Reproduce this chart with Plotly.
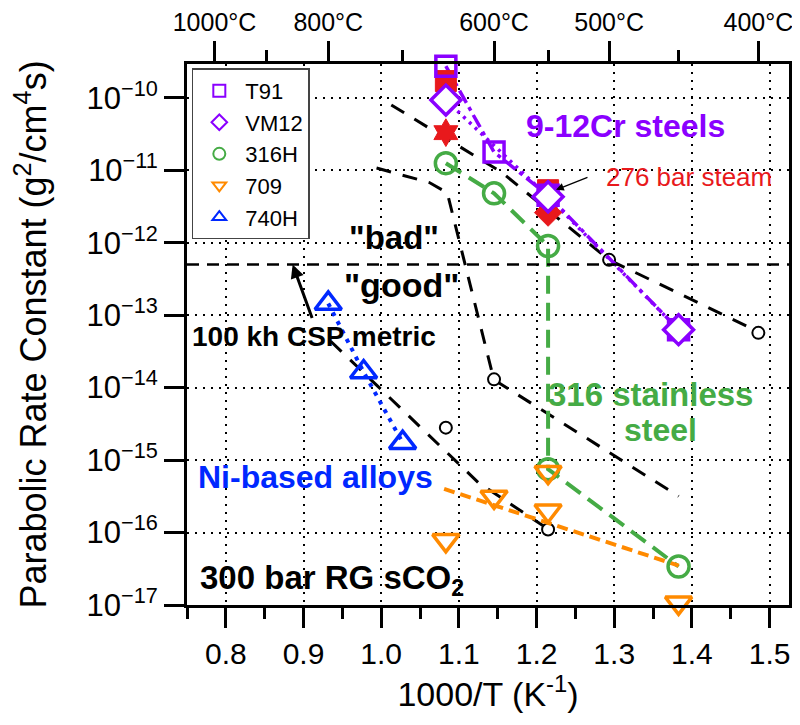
import numpy as np
import plotly.graph_objects as go

def inv_t(temps_c):
    return [1000.0 / (t + 273.15) for t in temps_c]

# ---------------- data ----------------
# temperatures (deg C) of exposures
t91_T = [650, 600, 550, 450]
t91_k = [2.73e-10, 1.78e-11, 4.5e-12, 6.3e-14]
vm12_T = [650, 550, 450]
vm12_k = [9.3e-11, 4.3e-12, 6.3e-14]
h316_T = [650, 600, 550, 550, 450]
h316_k = [1.25e-11, 4.8e-12, 9.0e-13, 7.5e-16, 3.4e-17]
a709_T = [650, 600, 550, 550, 450]
a709_k = [7.8e-17, 3.1e-16, 6.8e-16, 2.0e-16, 1.07e-17]
a740_T = [800, 750, 700]
a740_k = [1.45e-13, 1.64e-14, 1.74e-15]
steam_T = [650, 650, 550, 550]
steam_k = [1.7e-10, 3.3e-11, 5.3e-12, 2.6e-12]
steam_sym = ["square", "hexagram", "square", "diamond"]

# orange (709) trend line, 1000/T and k
fit709_x = [1.081, 1.383]
fit709_k = [4.0e-16, 3.5e-17]

# black dashed reference curves (1000/T, log10 k)
refA_x = [1.013, 1.154, 1.293, 1.488]
refA_logk = [-10.10, -11.02, -12.235, -13.24]
refB_x = [0.994, 1.062, 1.085, 1.145, 1.383]
refB_logk = [-10.97, -11.17, -11.31, -13.89, -15.50]
refC_x = [0.935, 1.125, 1.216]
refC_logk = [-13.36, -15.31, -15.96]
refpts_T = [650, 550, 600, 500, 400]
refpts_k = [2.8e-15, 1.1e-16, 1.3e-14, 5.8e-13, 5.7e-14]

metric_k = 5.0e-13  # 100 kh CSP metric

x_range = [0.75, 1.525]
y_log_range = [-17, -9.534]
x_major = [0.8, 0.9, 1.0, 1.1, 1.2, 1.3, 1.4, 1.5]
y_decades = list(range(-17, -9))
top_major_C = [1000, 800, 600, 500, 400]
top_minor_C = [900, 700, 550, 450]

# ---------------- colours ----------------
PURPLE = "#8a00ff"
GREEN = "#45ab45"
ORANGE = "#ff8a00"
BLUE = "#0028ff"
RED = "#e8191c"
FONT = "Liberation Sans, Arial, sans-serif"

fig = go.Figure()

# dummy trace for top axis
fig.add_trace(go.Scatter(x=inv_t(top_major_C), y=[None] * len(top_major_C), xaxis="x2",
                         showlegend=False, hoverinfo="skip"))

# black dashed reference curves
for xs, lk in [(refA_x, refA_logk), (refB_x, refB_logk), (refC_x, refC_logk)]:
    fig.add_trace(go.Scatter(x=xs, y=[10 ** v for v in lk], mode="lines",
                             line=dict(color="black", width=3, dash="15px,12px"),
                             showlegend=False, hoverinfo="skip"))
fig.add_trace(go.Scatter(x=inv_t(refpts_T), y=refpts_k, mode="markers",
                         marker=dict(symbol="circle", size=12, color="white",
                                     line=dict(color="black", width=2)),
                         showlegend=False, hoverinfo="skip"))

# coloured lines
fig.add_trace(go.Scatter(x=inv_t(h316_T), y=h316_k, mode="lines",
                         line=dict(color=GREEN, width=4, dash="18px,9px"), showlegend=False))
fig.add_trace(go.Scatter(x=fit709_x, y=fit709_k, mode="lines",
                         line=dict(color=ORANGE, width=4, dash="11px,6px"), showlegend=False))
fig.add_trace(go.Scatter(x=inv_t(a740_T), y=a740_k, mode="lines",
                         line=dict(color=BLUE, width=4, dash="4px,6px"), showlegend=False))
fig.add_trace(go.Scatter(x=inv_t(t91_T), y=t91_k, mode="lines",
                         line=dict(color=PURPLE, width=3.5, dash="14px,5px,4px,5px"), showlegend=False))
fig.add_trace(go.Scatter(x=inv_t(vm12_T), y=vm12_k, mode="lines",
                         line=dict(color=PURPLE, width=3.5, dash="3px,5px"), showlegend=False))

# markers
mk = dict(mode="markers", cliponaxis=False)
fig.add_trace(go.Scatter(x=inv_t(h316_T), y=h316_k, name="316H", legendrank=3, **mk,
                         marker=dict(symbol="circle", size=21, color="rgba(0,0,0,0)",
                                     line=dict(color=GREEN, width=3.5))))
fig.add_trace(go.Scatter(x=inv_t(a709_T), y=a709_k, name="709", legendrank=4, **mk,
                         marker=dict(symbol="triangle-down", size=23, color="rgba(0,0,0,0)",
                                     line=dict(color=ORANGE, width=3.5))))
fig.add_trace(go.Scatter(x=inv_t(a740_T), y=a740_k, name="740H", legendrank=5, **mk,
                         marker=dict(symbol="triangle-up", size=23, color="rgba(0,0,0,0)",
                                     line=dict(color=BLUE, width=3.5))))
fig.add_trace(go.Scatter(x=inv_t(steam_T), y=steam_k, showlegend=False, **mk,
                         marker=dict(symbol=steam_sym, size=21, color=RED,
                                     line=dict(color=RED, width=1))))
fig.add_trace(go.Scatter(x=inv_t(t91_T), y=t91_k, name="T91", legendrank=1, **mk,
                         marker=dict(symbol="square", size=20,
                                     color=["rgba(0,0,0,0)"] * 3 + [PURPLE],
                                     line=dict(color=PURPLE, width=3.5))))
fig.add_trace(go.Scatter(x=inv_t(vm12_T), y=vm12_k, name="VM12", legendrank=2, **mk,
                         marker=dict(symbol="diamond", size=23, color="white",
                                     line=dict(color=PURPLE, width=3.5))))

fig.add_hline(y=metric_k, line=dict(color="black", width=2.5, dash="12px,8px"))

# ---------------- annotations ----------------
def txt(s, x, y, size, color="black", xanchor="center"):
    fig.add_annotation(text=s, x=x, y=y, xref="paper", yref="paper", showarrow=False,
                       xanchor=xanchor, yanchor="middle",
                       font=dict(family=FONT, size=size, color=color))

txt("<b>9-12Cr steels</b>", 0.729, 0.885, 32, PURPLE)
txt("276 bar steam", 0.834, 0.791, 26, RED)
txt("<b>\"bad\"</b>", 0.344, 0.680, 33)
txt("<b>\"good\"</b>", 0.357, 0.591, 34)
txt("<b>100 kh CSP metric</b>", 0.211, 0.497, 28)
txt("<b>316 stainless</b>", 0.597, 0.390, 33, GREEN, "left")
txt("<b>steel</b>", 0.7226, 0.3235, 32, GREEN, "left")
txt("<b>Ni-based alloys</b>", 0.214, 0.2366, 32, BLUE)
txt("<b>300 bar RG sCO<sub>2</sub></b>", 0.0183, 0.046, 33, "black", "left")

# arrows
fig.add_annotation(x=1.225, y=-11.27, xref="x", yref="y", text="", showarrow=True,
                   ax=33, ay=-13, arrowhead=2, arrowsize=1.2, arrowwidth=1.3, arrowcolor="black")
fig.add_annotation(x=0.886, y=np.log10(metric_k), xref="x", yref="y", text="", showarrow=True,
                   ax=20, ay=55, arrowhead=2, arrowsize=0.9, arrowwidth=3, arrowcolor="black")

# ---------------- layout ----------------
# page body has an 8px margin, so the figure is 8px smaller than the window
grid = dict(showgrid=True, gridcolor="black", gridwidth=2, griddash="2px,6px")
fig.update_layout(
    width=792, height=717,
    margin=dict(l=179, r=11, t=56, b=120),
    plot_bgcolor="white", paper_bgcolor="white",
    font=dict(family=FONT, color="black"),
    xaxis=dict(range=x_range, tickvals=x_major, ticktext=[f"{v:.1f}" for v in x_major],
               ticks="outside", ticklen=20, tickwidth=3, tickcolor="black",
               showline=True, linewidth=3, linecolor="black", zeroline=False, automargin=False,
               minor=dict(tickmode="linear", tick0=0.75, dtick=0.05, ticks="outside",
                          ticklen=11, tickwidth=3, tickcolor="black", showgrid=False),
               tickfont=dict(size=30),
               title=dict(text="1000/T (K<sup>-1</sup>)", font=dict(size=34), standoff=14),
               **grid),
    xaxis2=dict(range=x_range, overlaying="x", side="top", anchor="y", automargin=False,
                tickmode="array", tickvals=inv_t(top_major_C),
                ticktext=[f"{c}°C" for c in top_major_C],
                ticks="outside", ticklen=20, tickwidth=3, tickcolor="black",
                showline=True, linewidth=3, linecolor="black", showgrid=False, zeroline=False,
                minor=dict(tickmode="array", tickvals=inv_t(top_minor_C), ticks="outside",
                           ticklen=11, tickwidth=3, tickcolor="black", showgrid=False),
                tickfont=dict(size=25)),
    yaxis=dict(type="log", range=y_log_range, tickmode="array", automargin=False,
               tickvals=[10.0 ** d for d in y_decades],
               ticktext=[f"10<sup>\u2212{-d}</sup>" for d in y_decades],
               ticks="outside", ticklen=20, tickwidth=3, tickcolor="black",
               showline=True, linewidth=3, linecolor="black", mirror=True, zeroline=False,
               tickfont=dict(size=31),
               title=dict(text="Parabolic Rate Constant (g<sup>2</sup>/cm<sup>4</sup>s)",
                          font=dict(size=36), standoff=30),
               **grid),
    legend=dict(x=0.008, y=0.992, xanchor="left", yanchor="top",
                bgcolor="white", bordercolor="#444", borderwidth=1.5,
                font=dict(size=22), itemsizing="constant", itemwidth=42, tracegroupgap=0),
    showlegend=True,
)

fig.write_html("out.html")
